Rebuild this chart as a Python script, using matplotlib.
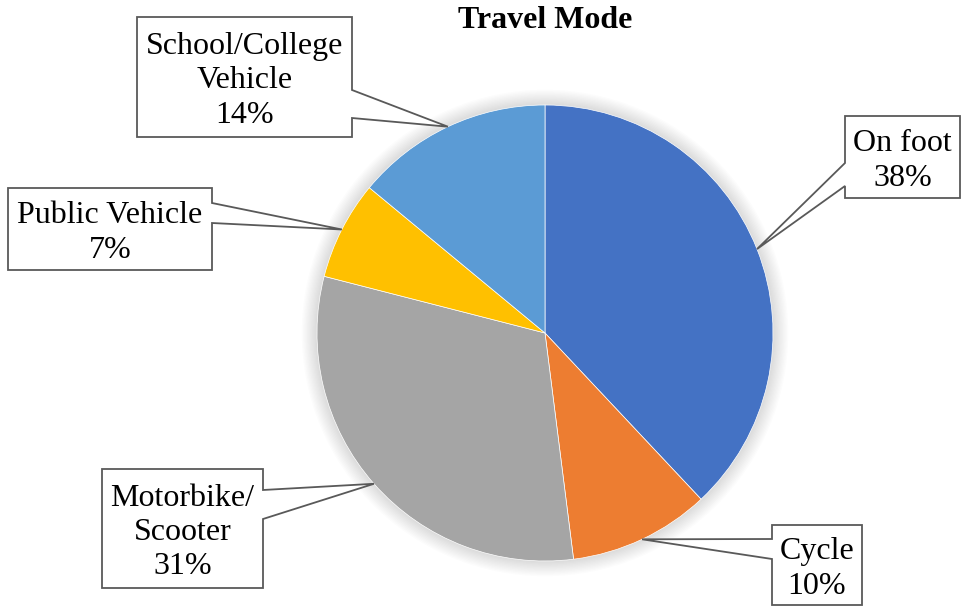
import numpy as np
import matplotlib
matplotlib.use("Agg")
import matplotlib.pyplot as plt
from matplotlib.patches import Polygon, Circle

# ---------------- data ----------------
modes = ["On foot", "Cycle", "Motorbike/\nScooter", "Public Vehicle", "School/College\nVehicle"]
shares = [38, 10, 31, 7, 14]
colors = ["#4472C4", "#ED7D31", "#A5A5A5", "#FFC000", "#5B9BD5"]

# callout boxes in pixel coords: (left, top, right, bottom), side the pointer leaves from,
# and the two points on that side where the pointer starts (y for left/right sides)
boxes = [
    ((845, 116, 960, 198), "left", (163, 186)),
    ((772, 525, 862, 605), "left", (539, 559)),
    ((102, 469, 263, 588), "right", (490, 519)),
    ((8, 188, 212, 270), "right", (203, 223)),
    ((137, 17, 352, 137), "right", (90, 118)),
]

W, H = 965, 608
CX, CY, R = 545, 333, 228

plt.rcParams["font.family"] = ["Liberation Serif", "DejaVu Serif"]

fig = plt.figure(figsize=(W / 100, H / 100), dpi=100)
ax = fig.add_axes([0, 0, 1, 1])

# soft glow behind the pie
for k in range(12):
    ax.add_patch(Circle((CX, H - CY), R + 1 + k * 1.3, color="black",
                        alpha=0.011, lw=0, zorder=0))

wedges, _ = ax.pie(shares, colors=colors, startangle=90, counterclock=False,
                   center=(CX, H - CY), radius=R, frame=True,
                   wedgeprops=dict(linewidth=0.5, edgecolor="white"))
ax.set_xlim(0, W)
ax.set_ylim(0, H)
ax.set_aspect("equal")
ax.axis("off")

for w, name, share, (box, side, (ya, yb)) in zip(wedges, modes, shares, boxes):
    mid = np.deg2rad((w.theta1 + w.theta2) / 2)
    tip = (CX + R * np.cos(mid), H - CY + R * np.sin(mid))
    l, t, r, b = box
    t, b, ya, yb = H - t, H - b, H - ya, H - yb
    if side == "right":
        pts = [(l, t), (r, t), (r, ya), tip, (r, yb), (r, b), (l, b)]
    else:
        pts = [(l, t), (r, t), (r, b), (l, b), (l, yb), tip, (l, ya)]
    ax.add_patch(Polygon(pts, closed=True, facecolor="white", edgecolor="#595959",
                         lw=1.3, zorder=5))
    ax.text((l + r) / 2, (t + b) / 2 - 4, f"{name}\n{share}%", ha="center", va="center",
            fontsize=23, linespacing=1.25, zorder=6)

ax.text(545, H - 21, "Travel Mode", ha="center", va="center", fontsize=23,
        fontweight="bold")

fig.savefig("out.png", dpi=100)
